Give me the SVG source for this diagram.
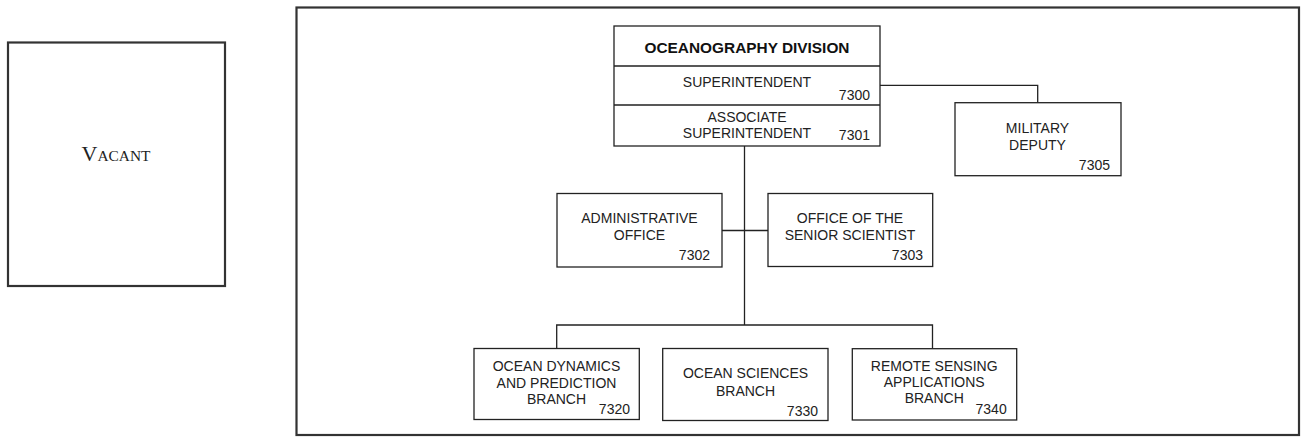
<svg xmlns="http://www.w3.org/2000/svg" width="1302" height="437" viewBox="0 0 1302 437">
<style>
.frame{fill:#fff;stroke:#333;stroke-width:2.2}
.box{fill:#fff;stroke:#222;stroke-width:1.3}
.line{fill:none;stroke:#222;stroke-width:1.3}
.t{font-family:"Liberation Sans",Arial,sans-serif;font-size:14px;fill:#222;text-anchor:middle}
.n{font-family:"Liberation Sans",Arial,sans-serif;font-size:14px;fill:#222;text-anchor:end}
.b{font-family:"Liberation Sans",Arial,sans-serif;font-size:15.4px;font-weight:bold;fill:#111;text-anchor:middle}
.v{font-family:"Liberation Serif","Times New Roman",serif;fill:#222;text-anchor:middle}
</style>
<rect width="1302" height="437" fill="#fff"/>
<g id="vacant">
<rect class="frame" x="8" y="42.5" width="217" height="243.5"/>
<text class="v" x="116" y="161" font-size="22">V<tspan font-size="15.4">ACANT</tspan></text>
</g>
<rect class="frame" x="296.5" y="7.5" width="1002.5" height="427.5"/>
<g id="connectors">
<path class="line" d="M880 85.3H1037.7V102.7"/>
<path class="line" d="M744.5 146V325"/>
<path class="line" d="M722 230.5H768"/>
<path class="line" d="M556.7 348.5V325H932.5V348.5"/>
</g>
<g id="division">
<rect class="box" x="614" y="26" width="266" height="120"/>
<path class="line" d="M614 66H880M614 105H880"/>
<text class="b" x="747" y="52.5">OCEANOGRAPHY DIVISION</text>
<text class="t" x="747" y="87.3">SUPERINTENDENT</text>
<text class="n" x="870" y="100">7300</text>
<text class="t" x="747" y="121.7">ASSOCIATE</text>
<text class="t" x="747" y="138.3">SUPERINTENDENT</text>
<text class="n" x="870" y="140">7301</text>
</g>
<g id="military">
<rect class="box" x="955" y="102.7" width="166" height="73"/>
<text class="t" x="1037.5" y="133.3">MILITARY</text>
<text class="t" x="1037.5" y="149.5">DEPUTY</text>
<text class="n" x="1110" y="170">7305</text>
</g>
<g id="admin">
<rect class="box" x="557" y="193.5" width="165" height="73.5"/>
<text class="t" x="639.5" y="223.3">ADMINISTRATIVE</text>
<text class="t" x="639.5" y="240">OFFICE</text>
<text class="n" x="710" y="260">7302</text>
</g>
<g id="senior">
<rect class="box" x="768" y="193.5" width="164.7" height="73"/>
<text class="t" x="850" y="223.3">OFFICE OF THE</text>
<text class="t" x="850" y="240">SENIOR SCIENTIST</text>
<text class="n" x="923" y="260">7303</text>
</g>
<g id="dynamics">
<rect class="box" x="474" y="348.5" width="165.3" height="71"/>
<text class="t" x="556.5" y="370.7">OCEAN DYNAMICS</text>
<text class="t" x="556.5" y="388">AND PREDICTION</text>
<text class="t" x="556.5" y="404">BRANCH</text>
<text class="n" x="630" y="414">7320</text>
</g>
<g id="sciences">
<rect class="box" x="662.7" y="348.5" width="165.3" height="72"/>
<text class="t" x="745.5" y="378.3">OCEAN SCIENCES</text>
<text class="t" x="745.5" y="395.5">BRANCH</text>
<text class="n" x="818" y="416">7330</text>
</g>
<g id="remote">
<rect class="box" x="852.3" y="348.7" width="164.4" height="71.3"/>
<text class="t" x="934.2" y="370.7">REMOTE SENSING</text>
<text class="t" x="934.2" y="387.3">APPLICATIONS</text>
<text class="t" x="934.2" y="402.7">BRANCH</text>
<text class="n" x="1006.7" y="414">7340</text>
</g>
</svg>
